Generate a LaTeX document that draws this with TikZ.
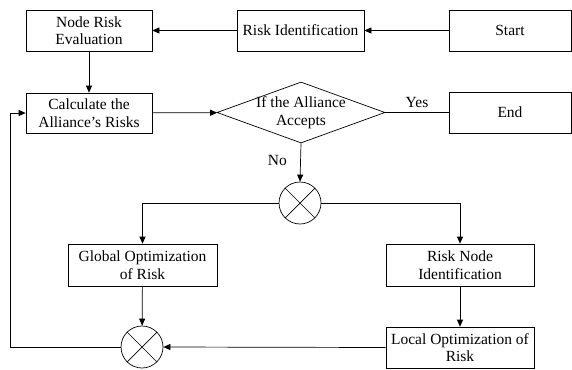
\documentclass[tikz,border=0pt]{standalone}
\usepackage{fontspec}
\setmainfont{Liberation Serif}
\usetikzlibrary{shapes.geometric,arrows.meta}

\tikzset{
  box/.style={draw, align=center, inner sep=0pt, minimum height=41pt},
  decision/.style={draw, diamond, inner sep=0pt, shape aspect=2.75,
    minimum width=168pt, minimum height=61pt},
  mixer/.style={draw, circle, inner sep=0pt, minimum size=42pt,
    path picture={\draw (path picture bounding box.north west) -- (path picture bounding box.south east)
      (path picture bounding box.north east) -- (path picture bounding box.south west);}},
  link/.style={-{Triangle[length=7pt,width=6pt]}},
}

\begin{document}
\begin{tikzpicture}[x=1pt, y=-1pt, line width=0.7pt,
    font=\fontsize{15.5}{17.5}\selectfont]
  \path[use as bounding box] (0,0) rectangle (572,369);

  % top row
  \node[box, minimum width=126pt] (eval) at (89,30.5) {Node Risk\\Evaluation};
  \node[box, minimum width=127pt] (ident) at (300.5,30.5) {Risk Identification};
  \node[box, minimum width=122pt] (start) at (510,30.5) {Start};

  % decision row
  \node[box, minimum width=126pt, minimum height=40pt] (calc) at (89,113) {Calculate the\\Alliance's Risks};
  \node[decision] (accept) at (301,112.5) {};
  \node[align=center, inner sep=0pt] (accepttext) at (accept.center) {If the Alliance\\Accepts};
  \node[box, minimum width=122pt] (finish) at (510,112.5) {End};

  % optimisation part
  \node[mixer] (mixA) at (300,203) {};
  \node[box, minimum width=149pt, minimum height=42pt] (global) at (142.5,265) {Global Optimization\\of Risk};
  \node[box, minimum width=148pt, minimum height=42pt] (rnode) at (460,265) {Risk Node\\Identification};
  \node[box, minimum width=148pt] (local) at (460,347.5) {Local Optimization of\\Risk};
  \node[mixer] (mixB) at (142,347) {};

  \draw[link] (start) -- (ident);
  \draw[link] (ident) -- (eval);
  \draw[link] (eval) -- (calc);
  \draw[link] (calc) -- (accept);
  \draw (accept.east) -- node[above=1pt] (yes) {Yes} (finish.west);
  \draw[link] (accept.south) -- node[left=10pt, pos=0.45] (no) {No} (mixA.north);
  \draw[link] (mixA.west) -| (global.north);
  \draw[link] (mixA.east) -| (rnode.north);
  \draw[link] (global) -- (mixB);
  \draw[link] (rnode) -- (local);
  \draw[link] (local.west) -- (mixB.east);
  \coordinate (back) at (10,347);
  \draw[link] (mixB.west) -- (back) |- (calc.west);

\end{tikzpicture}
\end{document}
